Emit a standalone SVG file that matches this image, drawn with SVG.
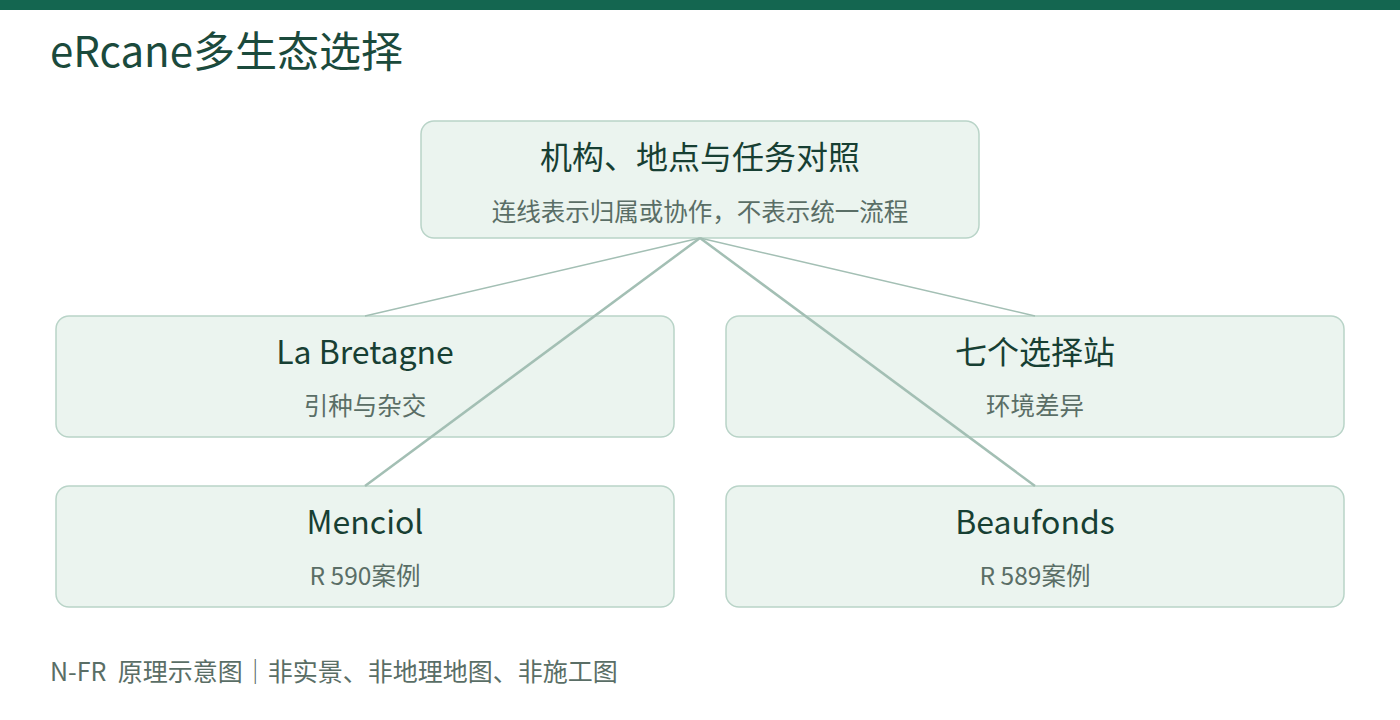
<svg xmlns="http://www.w3.org/2000/svg" width="1400" height="720" viewBox="0 0 1400 720">
<style>
text{font-family:"Noto Sans CJK SC","Noto Sans",sans-serif}
.box{fill:#ebf4ef;stroke:#b9d4c8;stroke-width:1.5}
.t{fill:#173f33;font-size:32px;text-anchor:middle}
.s{fill:#5a6e66;font-size:24.5px;text-anchor:middle}
.thin{stroke:#a3bfb4;stroke-width:1.5;fill:none}
.thick{stroke:#a3bfb4;stroke-width:2.5;fill:none}
</style>
<rect x="0" y="0" width="1400" height="10" fill="#146650"/>
<text x="50" y="67" fill="#1b4a3c" font-size="42">eRcane多生态选择</text>
<g id="top">
<rect class="box" x="421" y="121" width="558" height="117" rx="13"/>
<text class="t" x="700" y="169" font-size="30">机构、地点与任务对照</text>
<text class="s" x="700" y="221" font-size="25.5">连线表示归属或协作，不表示统一流程</text>
</g>
<g id="bretagne">
<rect class="box" x="56" y="316" width="618" height="121" rx="13"/>
<text class="t" x="365" y="364">La Bretagne</text>
<text class="s" x="365" y="415">引种与杂交</text>
</g>
<g id="stations">
<rect class="box" x="726" y="316" width="618" height="121" rx="13"/>
<text class="t" x="1035" y="364">七个选择站</text>
<text class="s" x="1035" y="415">环境差异</text>
</g>
<g id="menciol">
<rect class="box" x="56" y="486" width="618" height="121" rx="13"/>
<text class="t" x="365" y="534">Menciol</text>
<text class="s" x="365" y="585">R 590案例</text>
</g>
<g id="beaufonds">
<rect class="box" x="726" y="486" width="618" height="121" rx="13"/>
<text class="t" x="1035" y="534">Beaufonds</text>
<text class="s" x="1035" y="585">R 589案例</text>
</g>
<g id="connectors">
<line class="thin" x1="700" y1="238" x2="365" y2="316"/>
<line class="thin" x1="700" y1="238" x2="1035" y2="316"/>
<line class="thick" x1="700" y1="238" x2="365" y2="486"/>
<line class="thick" x1="700" y1="238" x2="1035" y2="486"/>
</g>
<text x="50" y="681" fill="#5a6e66" font-size="25" style="white-space:pre">N-FR  原理示意图｜非实景、非地理地图、非施工图</text>
</svg>
